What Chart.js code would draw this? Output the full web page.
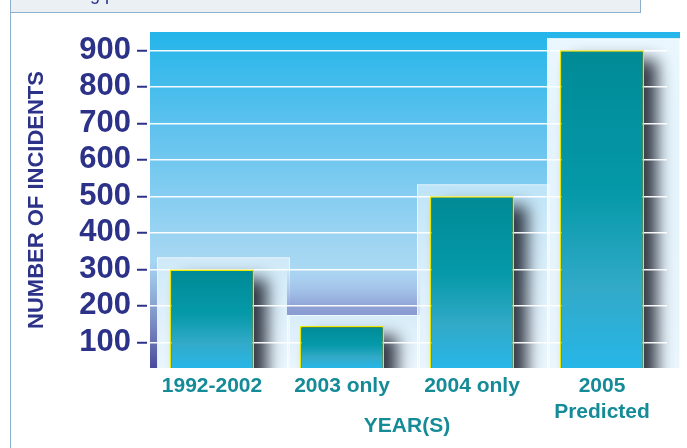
<!DOCTYPE html>
<html>
<head>
<meta charset="utf-8">
<script src="https://cdn.jsdelivr.net/npm/chart.js@4"></script>
<style>
  body { margin: 0; background: #ffffff; }
  #wrap { width: 687px; height: 448px; position: relative; }
</style>
</head>
<body>
<div id="wrap"><canvas id="incidentChart"></canvas></div>
<script>
// data
const yearLabels = [['1992-2002'], ['2003 only'], ['2004 only'], ['2005', 'Predicted']];
const incidentCounts = [300, 145, 500, 900];
const tickValues = [100, 200, 300, 400, 500, 600, 700, 800, 900];
const yTitle = 'NUMBER OF INCIDENTS';
const xTitle = 'YEAR(S)';

const NAVY = '#2c3288';
const TEAL = '#148b97';
const FONT = '"Liberation Sans", Arial, sans-serif';

// background, glow boxes, bar shadows and header frame, all drawn before the grid
const backdrop = {
    id: 'backdrop',
    beforeDraw(chart) {
        const ctx = chart.ctx;
        const a = chart.chartArea;
        const right = a.right + 13;
        ctx.save();

        // header frame at the top
        ctx.fillStyle = '#ebf0f5';
        ctx.fillRect(10, -2, 630, 14);
        ctx.strokeStyle = '#8fb0cd';
        ctx.lineWidth = 1;
        ctx.strokeRect(10.5, -2, 630, 14.5);
        ctx.beginPath();
        ctx.moveTo(10.5, 12);
        ctx.lineTo(10.5, chart.height);
        ctx.stroke();
        ctx.fillStyle = NAVY;
        ctx.font = '18px ' + FONT;
        ctx.textBaseline = 'alphabetic';
        ctx.fillText('g p', 90, 0);

        // sky gradient behind the plot
        let g = ctx.createLinearGradient(0, a.top, 0, a.bottom);
        g.addColorStop(0, '#24b5ea');
        g.addColorStop(0.3, '#62c3ee');
        g.addColorStop(0.65, '#a3d6f2');
        g.addColorStop(1, '#c9e7f7');
        ctx.fillStyle = g;
        ctx.fillRect(a.left + 3, a.top, right - a.left - 3, a.bottom - a.top);

        // purple strip on the left
        g = ctx.createLinearGradient(0, a.bottom - 108, 0, a.bottom);
        g.addColorStop(0, 'rgba(80,84,165,0)');
        g.addColorStop(1, 'rgba(72,74,155,1)');
        ctx.fillStyle = g;
        ctx.fillRect(a.left + 3, a.bottom - 108, 8, 108);

        // glow boxes behind the bars
        const bars = chart.getDatasetMeta(0).data;
        bars.forEach(function (bar, i) {
            const x0 = bar.x - bar.width / 2 - 13;
            const x1 = (i == bars.length - 1) ? right : bar.x + bar.width / 2 + 36;
            let top = bar.y - 12;
            if (i == 1) {
                // odd band above the short bar
                const bandTop = chart.scales.y.getPixelForValue(300);
                const bandBot = bar.y - 11;
                const bg = ctx.createLinearGradient(0, bandTop, 0, bandBot);
                bg.addColorStop(0, 'rgba(170,200,240,0.2)');
                bg.addColorStop(0.85, 'rgba(138,155,210,0.95)');
                bg.addColorStop(1, 'rgba(138,155,210,1)');
                ctx.fillStyle = bg;
                ctx.fillRect(x0, bandTop, x1 - x0, bandBot - bandTop);
                top = bandBot;
            }
            const gg = ctx.createLinearGradient(0, top, 0, a.bottom);
            if (i == 3) {
                gg.addColorStop(0, 'rgba(245,250,254,0.95)');
                gg.addColorStop(1, 'rgba(245,250,254,0.75)');
            } else {
                gg.addColorStop(0, 'rgba(240,248,253,0.55)');
                gg.addColorStop(1, 'rgba(245,250,254,0.75)');
            }
            ctx.fillStyle = gg;
            ctx.fillRect(x0, top, x1 - x0, a.bottom - top);
            ctx.strokeStyle = 'rgba(255,255,255,0.6)';
            ctx.strokeRect(x0 + 0.5, top + 0.5, x1 - x0 - 1, a.bottom - top);
        });

        // soft drop shadow to the lower right of each bar
        ctx.beginPath();
        ctx.rect(a.left, a.top, right - a.left, a.bottom - a.top);
        ctx.clip();
        ctx.shadowColor = 'rgba(20,25,38,0.85)';
        ctx.shadowBlur = 15;
        ctx.shadowOffsetX = 13;
        ctx.shadowOffsetY = 10;
        ctx.fillStyle = '#1c2230';
        bars.forEach(function (bar) {
            ctx.fillRect(bar.x - bar.width / 2, bar.y, bar.width, bar.base - bar.y + 20);
        });
        ctx.restore();
    }
};

function barFill(context) {
    const chart = context.chart;
    if (!chart.chartArea) return '#0096a6';
    const yScale = chart.scales.y;
    const top = yScale.getPixelForValue(incidentCounts[context.dataIndex]);
    const bottom = chart.chartArea.bottom;
    const g = chart.ctx.createLinearGradient(0, top, 0, bottom);
    g.addColorStop(0, '#008a96');
    g.addColorStop(0.45, '#0599a9');
    g.addColorStop(0.75, '#32aac8');
    g.addColorStop(1, '#27b6e8');
    return g;
}

const config = {
    type: 'bar',
    data: {
        labels: yearLabels,
        datasets: [{
            data: incidentCounts,
            backgroundColor: barFill,
            borderColor: '#e8e800',
            borderWidth: 1.5,
            borderSkipped: 'bottom',
            barPercentage: 0.646,
            categoryPercentage: 1
        }]
    },
    options: {
        responsive: true,
        maintainAspectRatio: false,
        animation: false,
        devicePixelRatio: 1,
        layout: { padding: { left: 0, top: 32, right: 20, bottom: 0 } },
        plugins: {
            legend: { display: false },
            tooltip: { enabled: false }
        },
        scales: {
            x: {
                grid: { display: false, drawTicks: false },
                border: { display: false },
                ticks: {
                    color: TEAL,
                    font: { family: FONT, size: 21, weight: 'bold', lineHeight: 1.25 },
                    padding: 5,
                    maxRotation: 0,
                    autoSkip: false
                },
                title: {
                    display: true,
                    text: xTitle,
                    color: TEAL,
                    font: { family: FONT, size: 21, weight: 'bold' },
                    padding: { top: 0, bottom: 9 }
                },
                afterFit(scale) { scale.height = 80; }
            },
            y: {
                min: 30,
                max: 950,
                afterBuildTicks(scale) {
                    scale.ticks = tickValues.map(function (v) { return { value: v }; });
                },
                grid: {
                    color: 'rgba(255,255,255,0.95)',
                    lineWidth: 1.5,
                    tickColor: NAVY,
                    tickLength: 10,
                    tickWidth: 2
                },
                border: { display: false },
                ticks: {
                    color: NAVY,
                    font: { family: FONT, size: 31, weight: 'bold' },
                    padding: 6
                },
                title: {
                    display: true,
                    text: yTitle,
                    color: NAVY,
                    font: { family: FONT, size: 22, weight: 'bold' },
                    padding: { top: 24, bottom: 0 }
                },
                afterFit(scale) { scale.width = 147; }
            }
        }
    },
    plugins: [backdrop]
};

new Chart(document.getElementById('incidentChart'), config);
</script>
</body>
</html>
